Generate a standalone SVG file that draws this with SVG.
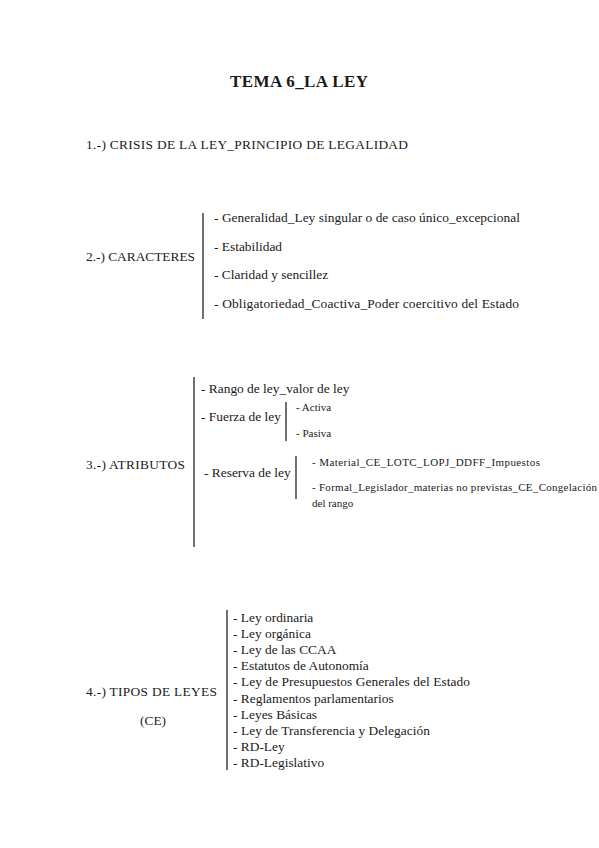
<svg xmlns="http://www.w3.org/2000/svg" width="599" height="848" viewBox="0 0 599 848">
<style>
text{font-family:"Liberation Serif","Times New Roman","DejaVu Serif",serif;fill:#1a1a1a;}
.t{font-size:17px;font-weight:bold;}
.h{font-size:13.4px;}
.i{font-size:13.4px;}
.s{font-size:11px;}
.br{stroke:#333;stroke-width:1.4;fill:none;}
</style>
<rect width="599" height="848" fill="#fff"/>
<g id="title"><text class="t" x="230" y="87" textLength="138" lengthAdjust="spacing">TEMA 6_LA LEY</text></g>
<g id="s1"><text class="h" x="86" y="149" textLength="322" lengthAdjust="spacing">1.-) CRISIS DE LA LEY_PRINCIPIO DE LEGALIDAD</text></g>
<g id="s2"><text class="h" x="86" y="261" textLength="109" lengthAdjust="spacing">2.-) CARACTERES</text></g>
<g id="s2-items">
<text class="i" x="214" y="222" textLength="306" lengthAdjust="spacing">- Generalidad_Ley singular o de caso único_excepcional</text>
<text class="i" x="214" y="251">- Estabilidad</text>
<text class="i" x="214" y="279">- Claridad y sencillez</text>
<text class="i" x="214" y="308" textLength="305" lengthAdjust="spacing">- Obligatoriedad_Coactiva_Poder coercitivo del Estado</text>
</g>
<g id="s3"><text class="h" x="86" y="469" textLength="99" lengthAdjust="spacing">3.-) ATRIBUTOS</text></g>
<g id="s3-rango"><text class="i" x="201" y="393">- Rango de ley_valor de ley</text></g>
<g id="s3-fuerza"><text class="i" x="201" y="421">- Fuerza de ley</text></g>
<g id="s3-fuerza-items">
<text class="s" x="296" y="411">- Activa</text>
<text class="s" x="296" y="437">- Pasiva</text>
</g>
<g id="s3-reserva"><text class="i" x="204" y="477">- Reserva de ley</text></g>
<g id="s3-reserva-items">
<text class="s" x="312" y="466" textLength="228" lengthAdjust="spacing">- Material_CE_LOTC_LOPJ_DDFF_Impuestos</text>
<text class="s" x="312" y="491" textLength="285" lengthAdjust="spacing">- Formal_Legislador_materias no previstas_CE_Congelación</text>
<text class="s" x="312" y="507">del rango</text>
</g>
<g id="s4">
<text class="h" x="86" y="696" textLength="131" lengthAdjust="spacing">4.-) TIPOS DE LEYES</text>
<text class="h" x="153" y="725" text-anchor="middle">(CE)</text>
</g>
<g id="s4-items">
<text class="i" x="233" y="622">- Ley ordinaria</text>
<text class="i" x="233" y="638">- Ley orgánica</text>
<text class="i" x="233" y="654">- Ley de las CCAA</text>
<text class="i" x="233" y="670">- Estatutos de Autonomía</text>
<text class="i" x="233" y="686" textLength="237" lengthAdjust="spacing">- Ley de Presupuestos Generales del Estado</text>
<text class="i" x="233" y="703">- Reglamentos parlamentarios</text>
<text class="i" x="233" y="719">- Leyes Básicas</text>
<text class="i" x="233" y="735" textLength="197" lengthAdjust="spacing">- Ley de Transferencia y Delegación</text>
<text class="i" x="233" y="751">- RD-Ley</text>
<text class="i" x="233" y="767">- RD-Legislativo</text>
</g>
<g id="connectors">
<line class="br" x1="203" y1="213" x2="203" y2="319"/>
<line class="br" x1="194" y1="377" x2="194" y2="547"/>
<line class="br" x1="286" y1="402" x2="286" y2="441"/>
<line class="br" x1="296" y1="456" x2="296" y2="499"/>
<line class="br" x1="227" y1="610" x2="227" y2="770"/>
</g>
</svg>
